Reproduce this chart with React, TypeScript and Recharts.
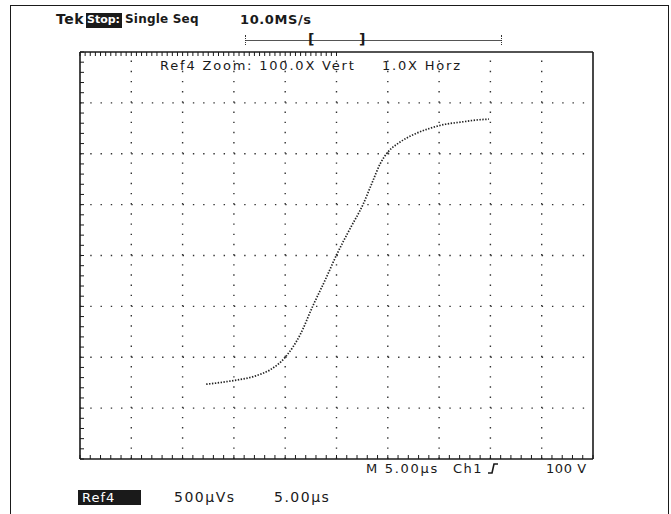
import React from 'react'
import { ComposedChart, Line, XAxis, YAxis, ReferenceLine } from 'recharts'

// trace, in divisions (x 0..10 left to right, y 0..8 bottom to top)
const traceX = [2.46, 2.92, 3.41, 3.7, 4.0, 4.29, 4.54, 4.78, 5.01, 5.26, 5.52, 5.69, 5.85, 6.0, 6.24, 6.53, 6.82, 7.12, 7.41, 7.7, 7.97]
const traceY = [1.47, 1.53, 1.63, 1.75, 2.0, 2.44, 3.01, 3.52, 4.03, 4.52, 5.01, 5.42, 5.8, 6.03, 6.23, 6.39, 6.5, 6.58, 6.62, 6.66, 6.68]

const gridX = [1, 2, 3, 4, 5, 6, 7, 8, 9]
const gridY = [1, 2, 3, 4, 5, 6, 7]
const edgeTicksX = Array.from({ length: 51 }, (_, i) => i / 5)
const edgeTicksY = Array.from({ length: 41 }, (_, i) => i / 5)

const trace = traceX.map((t, i) => ({ t, v: traceY[i] }))

const FONT = '"DejaVu Sans", sans-serif'
const INK = '#1a1a1a'

const noLabel = () => <g />

function Txt({ x, y, size = 13, bold = false, ls = 0, children, style }: any) {
  return (
    <div
      style={{
        position: 'absolute', left: x, top: y, fontFamily: FONT, fontSize: size, letterSpacing: ls,
        fontWeight: bold ? 700 : 400, color: INK, lineHeight: '15px', whiteSpace: 'pre', ...style,
      }}
    >
      {children}
    </div>
  )
}

const axisStyle = {
  tick: noLabel,
  mirror: true,
  tickSize: 4,
  interval: 0 as const,
  axisLine: { stroke: INK, strokeWidth: 1.6 },
  tickLine: { stroke: INK, strokeWidth: 1 },
}

export default function App() {
  return (
    <div style={{ position: 'absolute', left: 0, top: 0, width: 671, height: 514, background: '#fff', overflow: 'hidden' }}>
      {/* screen frame */}
      <div style={{ position: 'absolute', left: 10, top: 5, width: 657, height: 520, borderLeft: `1.5px solid ${INK}`, borderTop: `1.5px solid ${INK}`, borderRight: `1.5px solid ${INK}` }} />

      <ComposedChart
        width={671}
        height={514}
        data={trace}
        margin={{ top: 52, right: 78, bottom: 55, left: 80 }}
        style={{ position: 'absolute', left: 0, top: 0 }}
      >
        <XAxis xAxisId="b" dataKey="t" type="number" domain={[0, 10]} ticks={edgeTicksX} {...axisStyle} />
        <XAxis xAxisId="t" orientation="top" type="number" domain={[0, 10]} ticks={edgeTicksX} {...axisStyle} />
        <YAxis yAxisId="l" type="number" domain={[0, 8]} ticks={edgeTicksY} {...axisStyle} />
        <YAxis yAxisId="r" orientation="right" type="number" domain={[0, 8]} ticks={edgeTicksY} {...axisStyle} />

        {gridX.map((g) => (
          <ReferenceLine key={'gx' + g} xAxisId="b" yAxisId="l" x={g} stroke="#333" strokeWidth={1.4} strokeDasharray="1.4 8.78" />
        ))}
        {gridY.map((g) => (
          <ReferenceLine key={'gy' + g} xAxisId="b" yAxisId="l" y={g} stroke="#333" strokeWidth={1.4} strokeDasharray="1.4 8.86" />
        ))}

        <Line xAxisId="b" yAxisId="l" dataKey="v" type="monotone" stroke="#222" strokeWidth={1.7}
          strokeDasharray="1.4 1.5" dot={false} isAnimationActive={false} />
      </ComposedChart>

      {/* header */}
      <Txt x={56} y={12} size={14} bold ls={0.5}>Tek</Txt>
      <div style={{ position: 'absolute', left: 86, top: 13, width: 36, height: 15, background: INK }} />
      <Txt x={87} y={12} size={11} bold style={{ color: '#fff' }}>Stop:</Txt>
      <Txt x={125} y={12} size={12} bold ls={0.2}>Single Seq</Txt>
      <Txt x={240} y={12} size={13} bold ls={0.6}>10.0MS/s</Txt>

      {/* record bar */}
      <div style={{ position: 'absolute', left: 245, top: 40, width: 256, height: 0, borderTop: '1px solid #555' }} />
      <div style={{ position: 'absolute', left: 245, top: 35, width: 0, height: 10, borderLeft: '1px dotted #333' }} />
      <div style={{ position: 'absolute', left: 501, top: 35, width: 0, height: 10, borderLeft: '1px dotted #333' }} />
      <Txt x={308} y={32} size={14} bold>[</Txt>
      <Txt x={359} y={32} size={14} bold>]</Txt>

      {/* inside the graticule */}
      <Txt x={160} y={58} size={13} ls={1.8}>Ref4 Zoom: 100.0X Vert</Txt>
      <Txt x={382} y={58} size={13} ls={1.8}>1.0X Horz</Txt>

      {/* bottom readouts */}
      <Txt x={366} y={461} size={13} ls={1.7}>M 5.00µs</Txt>
      <Txt x={453} y={461} size={13} ls={1.5}>Ch1</Txt>
      <svg style={{ position: 'absolute', left: 487, top: 462 }} width={12} height={13}>
        <polyline points="1,11 5,11 7,2 11,2" fill="none" stroke={INK} strokeWidth={1.6} />
      </svg>
      <Txt x={546} y={461} size={13} ls={0.6}>100 V</Txt>

      <div style={{ position: 'absolute', left: 78, top: 490, width: 63, height: 15, background: INK }} />
      <Txt x={82} y={490} size={13} ls={1} style={{ color: '#fff' }}>Ref4</Txt>
      <Txt x={174} y={490} size={14} ls={1.5}>500µVs</Txt>
      <Txt x={274} y={490} size={14} ls={1.5}>5.00µs</Txt>
    </div>
  )
}
